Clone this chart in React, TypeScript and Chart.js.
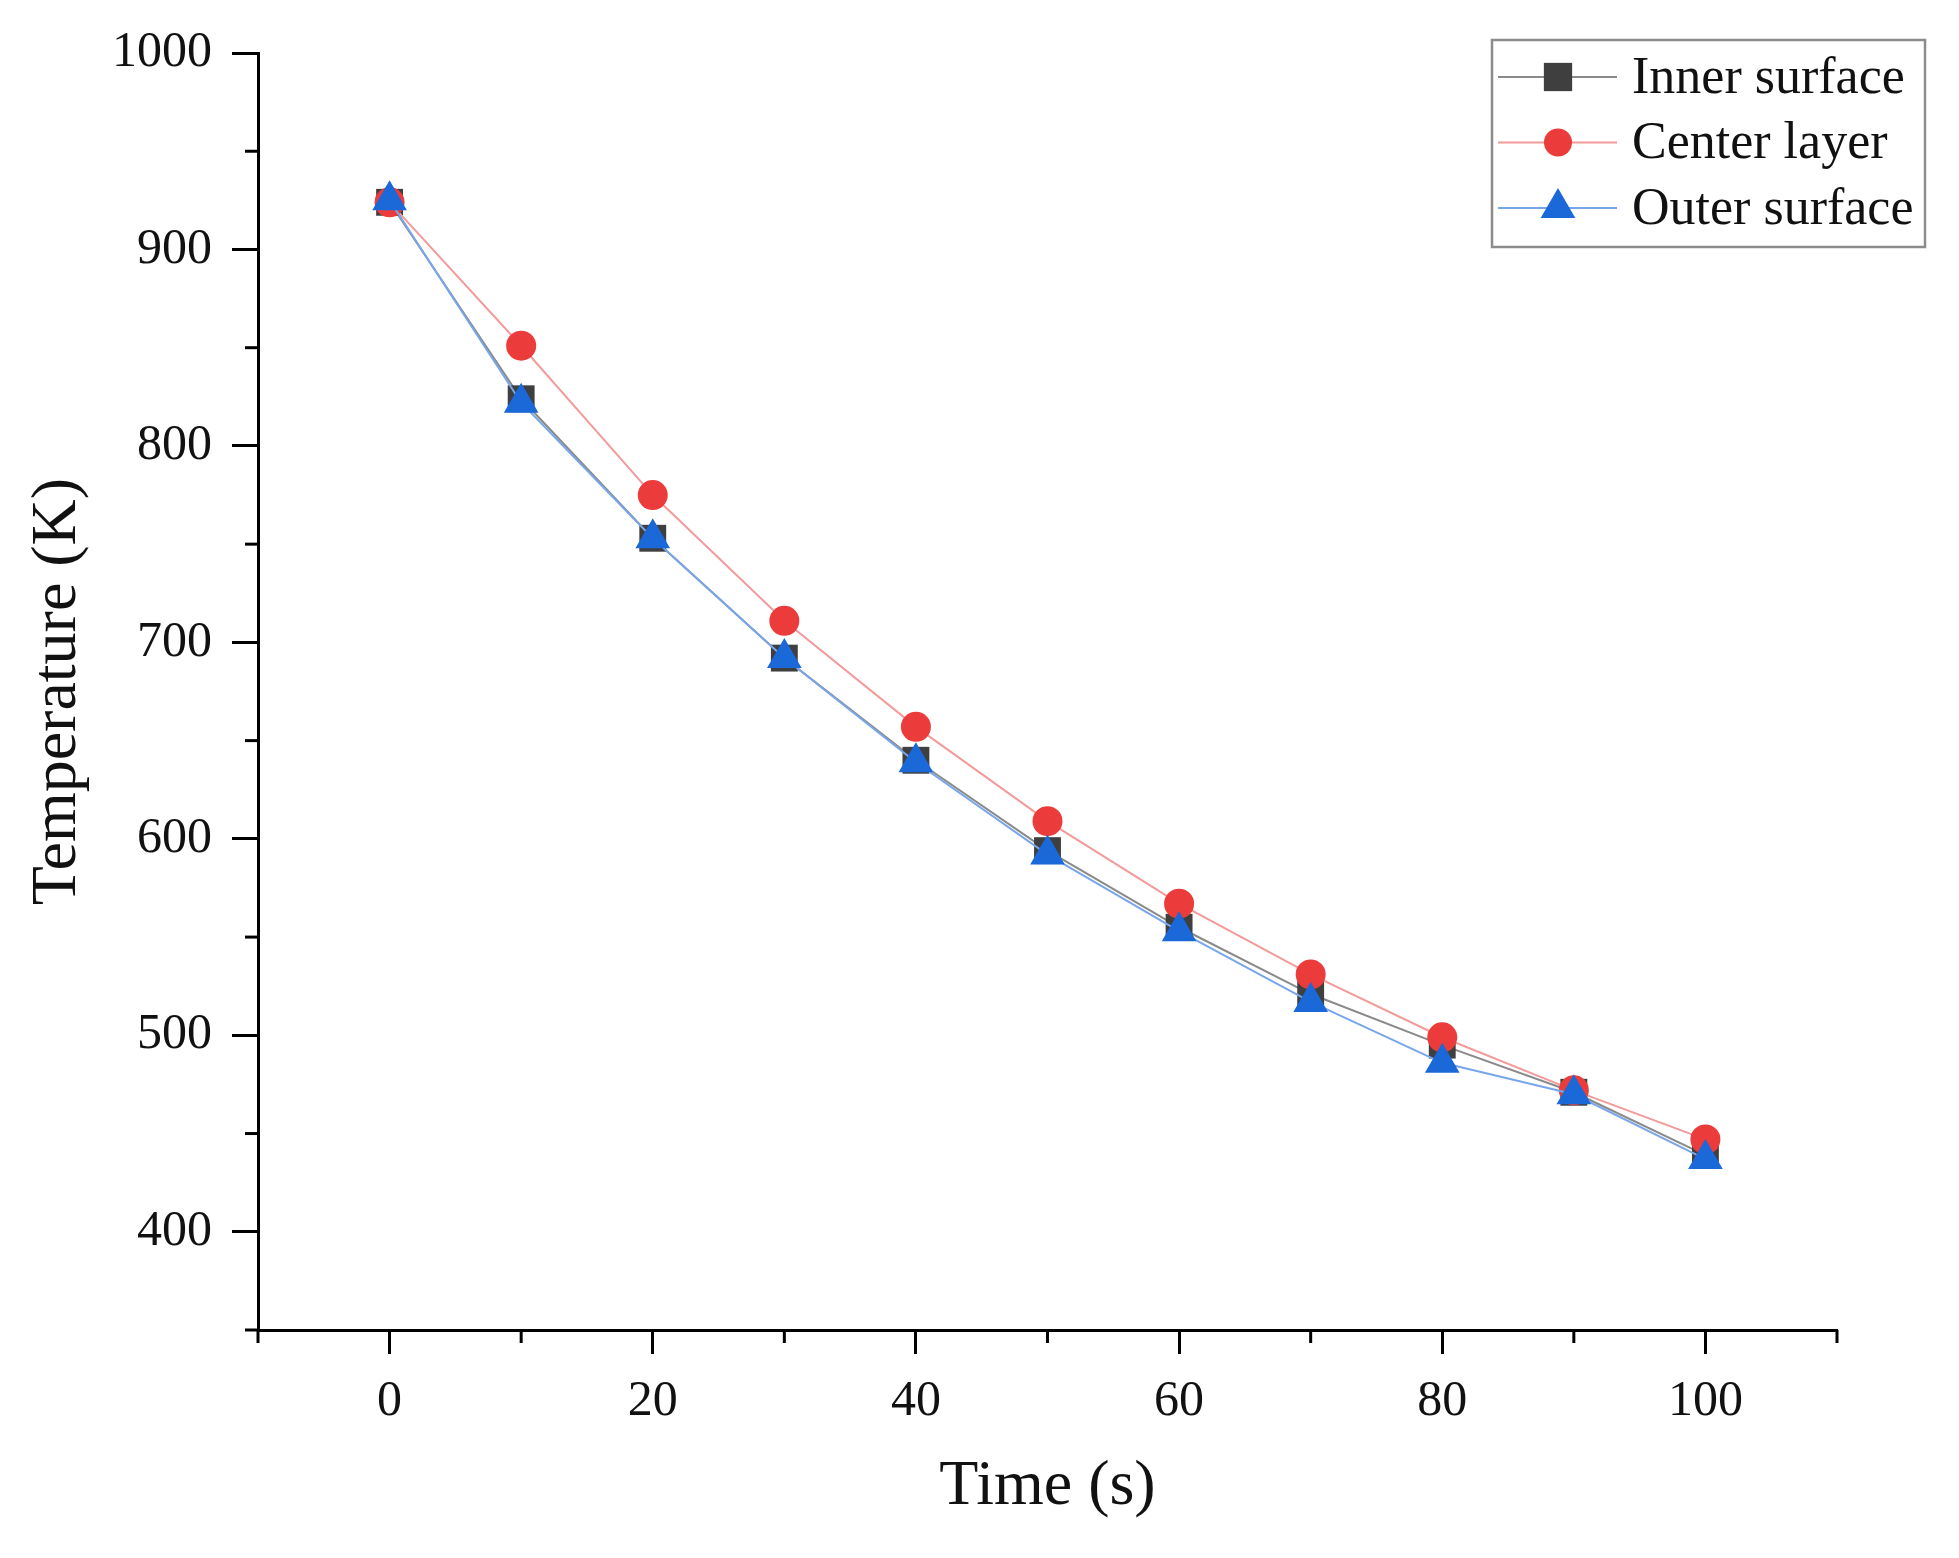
import React, { useEffect, useRef } from 'react';
import { Chart, registerables } from 'chart.js';

Chart.register(...registerables);

const timeValues = [0, 10, 20, 30, 40, 50, 60, 70, 80, 90, 100];
const innerSurface = [924, 824, 753, 692, 640, 594, 555, 521, 495, 471, 439];
const centerLayer = [924, 851, 775, 711, 657, 609, 567, 531, 499, 472, 447];
const outerSurface = [925, 822, 753, 692, 639, 592, 553, 517, 486, 470, 437];
const seriesNames = ['Inner surface', 'Center layer', 'Outer surface'];
const xMajorTicks = [0, 20, 40, 60, 80, 100];
const yMajorTicks = [400, 500, 600, 700, 800, 900, 1000];

const FONT = '"Liberation Serif", "Times New Roman", serif';
const markerColors = ['#3f3f3f', '#ec3b3b', '#1b68d9'];
const lineColors = ['#8a8a8a', '#f39a9a', '#78a6ea'];
const markerStyles = ['rect', 'circle', 'triangle'];
const markerRadius = [19, 15, 20];

function drawMarker(ctx: CanvasRenderingContext2D, style: string, x: number, y: number, r: number, color: string) {
  ctx.save();
  ctx.fillStyle = color;
  ctx.beginPath();
  if (style === 'rect') {
    const s = Math.SQRT1_2 * r;
    ctx.rect(x - s, y - s, 2 * s, 2 * s);
  } else if (style === 'circle') {
    ctx.arc(x, y, r, 0, Math.PI * 2);
  } else {
    ctx.moveTo(x, y - r);
    ctx.lineTo(x + r * Math.sin(Math.PI * 2 / 3), y + r / 2);
    ctx.lineTo(x - r * Math.sin(Math.PI * 2 / 3), y + r / 2);
    ctx.closePath();
  }
  ctx.fill();
  ctx.restore();
}

const customPlugin = {
  id: 'customDecor',
  afterDraw(chart: any) {
    const ctx: CanvasRenderingContext2D = chart.ctx;
    const xs = chart.scales.x;
    const ys = chart.scales.y;
    const area = chart.chartArea;
    ctx.save();
    ctx.strokeStyle = '#000';
    ctx.lineWidth = 3;
    // minor ticks
    xs.ticks.forEach((t: any) => {
      if (!xMajorTicks.includes(t.value)) {
        const px = xs.getPixelForValue(t.value);
        ctx.beginPath();
        ctx.moveTo(px, area.bottom);
        ctx.lineTo(px, area.bottom + 13);
        ctx.stroke();
      }
    });
    ys.ticks.forEach((t: any) => {
      if (!yMajorTicks.includes(t.value)) {
        const py = ys.getPixelForValue(t.value);
        ctx.beginPath();
        ctx.moveTo(area.left - 13, py);
        ctx.lineTo(area.left, py);
        ctx.stroke();
      }
    });
    // legend
    const bx = area.right - 345;
    const by = area.top - 13;
    const bw = 433;
    const bh = 207;
    ctx.strokeStyle = '#8c8c8c';
    ctx.lineWidth = 2.5;
    ctx.strokeRect(bx, by, bw, bh);
    ctx.font = `52px ${FONT}`;
    ctx.textBaseline = 'middle';
    ctx.textAlign = 'left';
    for (let i = 0; i < 3; i++) {
      const ry = by + 37 + i * 65.5;
      ctx.strokeStyle = lineColors[i];
      ctx.lineWidth = 2;
      ctx.beginPath();
      ctx.moveTo(bx + 6, ry);
      ctx.lineTo(bx + 125, ry);
      ctx.stroke();
      drawMarker(ctx, markerStyles[i], bx + 66, ry, i === 1 ? 14 : 20, markerColors[i]);
      ctx.fillStyle = '#111';
      ctx.fillText(seriesNames[i], bx + 140, ry + 2);
    }
    ctx.restore();
  },
};

export default function App() {
  const canvasRef = useRef<HTMLCanvasElement | null>(null);

  useEffect(() => {
    document.body.style.margin = '0';
    const canvas = canvasRef.current;
    if (!canvas) return;
    const seriesValues = [innerSurface, centerLayer, outerSurface];
    const datasets = seriesValues.map((vals, i) => ({
      label: seriesNames[i],
      data: timeValues.map((t, j) => ({ x: t, y: vals[j] })),
      borderColor: lineColors[i],
      borderWidth: 2,
      backgroundColor: markerColors[i],
      pointBackgroundColor: markerColors[i],
      pointBorderColor: markerColors[i],
      pointBorderWidth: 0,
      pointStyle: markerStyles[i],
      pointRadius: markerRadius[i],
      tension: 0,
      fill: false,
      order: 3 - i,
    }));

    const chart = new Chart(canvas, {
      type: 'line',
      data: { datasets },
      options: {
        responsive: false,
        animation: false,
        devicePixelRatio: 1,
        layout: { padding: { top: 53, right: 122, bottom: 0, left: 0 } },
        plugins: {
          legend: { display: false },
          tooltip: { enabled: false },
        },
        scales: {
          x: {
            type: 'linear',
            min: -10,
            max: 110,
            afterFit: (scale: any) => {
              scale.height = 228;
            },
            ticks: {
              stepSize: 10,
              autoSkip: false,
              maxRotation: 0,
              padding: 18,
              color: '#111',
              font: { family: FONT, size: 50 },
              callback: (v: any) => (xMajorTicks.includes(Number(v)) ? String(v) : ''),
            },
            grid: {
              drawOnChartArea: false,
              drawTicks: true,
              tickLength: 24,
              tickWidth: 3,
              tickColor: (c: any) => (c.tick && xMajorTicks.includes(c.tick.value) ? '#000' : 'rgba(0,0,0,0)'),
            },
            border: { display: true, color: '#000', width: 3 },
            title: {
              display: true,
              text: 'Time (s)',
              color: '#111',
              font: { family: FONT, size: 64 },
              padding: { top: 0, bottom: 32 },
            },
          },
          y: {
            type: 'linear',
            min: 350,
            max: 1000,
            afterFit: (scale: any) => {
              scale.width = 258;
            },
            ticks: {
              stepSize: 50,
              autoSkip: false,
              padding: 20,
              color: '#111',
              font: { family: FONT, size: 50 },
              callback: (v: any) => (yMajorTicks.includes(Number(v)) ? String(v) : ''),
            },
            grid: {
              drawOnChartArea: false,
              drawTicks: true,
              tickLength: 26,
              tickWidth: 3,
              tickColor: (c: any) => (c.tick && yMajorTicks.includes(c.tick.value) ? '#000' : 'rgba(0,0,0,0)'),
            },
            border: { display: true, color: '#000', width: 3 },
            title: {
              display: true,
              text: 'Temperature (K)',
              color: '#111',
              font: { family: FONT, size: 64 },
              padding: { top: 20, bottom: 0 },
            },
          },
        },
      },
      plugins: [customPlugin],
    } as any);

    return () => {
      chart.destroy();
    };
  }, []);

  return (
    <div style={{ width: 1959, height: 1558, background: '#fff' }}>
      <canvas ref={canvasRef} width={1959} height={1558} style={{ display: 'block' }} />
    </div>
  );
}
